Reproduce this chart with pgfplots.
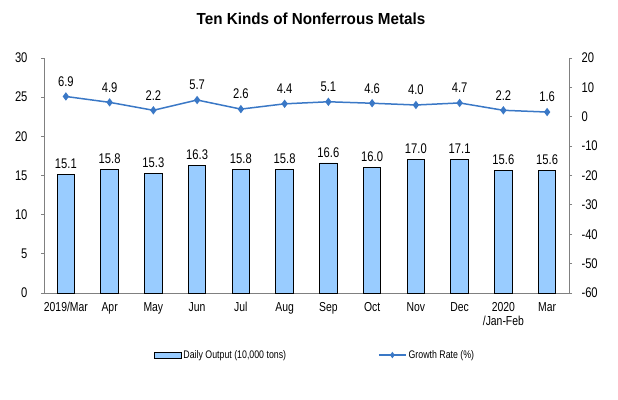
\documentclass[border=0pt]{standalone}
\usepackage{pgfplots}
\pgfplotsset{compat=1.18}
\usepackage{fontspec}
\setmainfont{Liberation Sans}[FakeStretch=0.8]
\newfontfamily\titlefont{Liberation Sans}[FakeStretch=0.95]
\definecolor{barfill}{HTML}{99CCFF}
\definecolor{linec}{HTML}{3A78C6}
\definecolor{axgrey}{HTML}{808080}
\pgfplotsset{linelegimg/.style={legend image code/.code={\draw[##1, mark repeat=2, mark phase=2] plot coordinates {(0pt,0pt) (13.5pt,0pt) (27pt,0pt)};}}}
\begin{document}
\begin{tikzpicture}
\useasboundingbox (0,0) rectangle (618pt,399pt);
\node at (311pt,380pt) {\titlefont\fontsize{16}{18}\selectfont\bfseries Ten Kinds of Nonferrous Metals};
\pgfplotsset{
  every axis/.append style={
    scale only axis, width=525pt, height=235pt,
    at={(44pt,106pt)}, anchor=south west,
    xmin=-0.5, xmax=11.5,
    /pgf/number format/assume math mode=true,
    axis line style={axgrey, line width=0.8pt},
    tick style={axgrey, line width=0.8pt},
    ticklabel style={font=\fontsize{14}{15}\selectfont},
  }
}
\begin{axis}[
  axis y line*=left, axis x line*=bottom,
  ymin=0, ymax=30, ytick={0,5,...,30},
  tick align=outside, major tick length=3pt,
  yticklabel style={xshift=-10pt},
  xtick={0,...,11},
  xticklabels={2019/Mar,Apr,May,Jun,Jul,Aug,Sep,Oct,Nov,Dec,{2020\\/Jan-Feb},Mar},
  xticklabel style={font=\fontsize{13}{14}\selectfont, align=center, yshift=-3pt},
  x tick style={draw=none},
  minor xtick={-0.5,0.5,...,11.5},
  minor x tick style={axgrey, line width=0.8pt},
  minor tick length=4pt,
  legend style={at={(0.516,-0.264)}, anchor=center, draw=none, fill=none,
    font=\fontsize{11}{12}\selectfont, legend columns=2,
    /tikz/every even column/.append style={column sep=90pt}},
  legend cell align=left,
]
\addplot[ybar, bar width=17.5pt, fill=barfill, draw=black, line width=0.8pt,
  nodes near coords={\pgfmathprintnumber[fixed,fixed zerofill,precision=1]{\pgfplotspointmeta}},
  every node near coord/.append style={font=\fontsize{14}{15}\selectfont, black, yshift=2pt},
  legend image code/.code={\draw[fill=barfill,draw=black,line width=0.8pt] (0pt,-3pt) rectangle (27pt,3pt);}
] coordinates {
(0,15.1) (1,15.8) (2,15.3) (3,16.3) (4,15.8) (5,15.8) (6,16.6) (7,16.0) (8,17.0) (9,17.1) (10,15.6) (11,15.6)};
\addlegendentry{Daily Output (10,000 tons)}
\addlegendimage{linec, line width=1.5pt, mark=diamond*, mark size=2pt, linelegimg}
\addlegendentry{Growth Rate (\%)}
\end{axis}
\begin{axis}[
  axis y line*=right, axis x line=none,
  ymin=-60, ymax=20, ytick={-60,-50,...,20},
  tick align=outside, major tick length=3pt,
  yticklabel style={xshift=6pt, anchor=west},
  xtick=\empty,
]
\addplot[linec, line width=1.5pt, mark=diamond*, mark size=3pt,
  nodes near coords={\pgfmathprintnumber[fixed,fixed zerofill,precision=1]{\pgfplotspointmeta}},
  every node near coord/.append style={font=\fontsize{14}{15}\selectfont, black, yshift=6pt}
] coordinates {
(0,6.9) (1,4.9) (2,2.2) (3,5.7) (4,2.6) (5,4.4) (6,5.1) (7,4.6) (8,4.0) (9,4.7) (10,2.2) (11,1.6)};
\end{axis}
\end{tikzpicture}
\end{document}
